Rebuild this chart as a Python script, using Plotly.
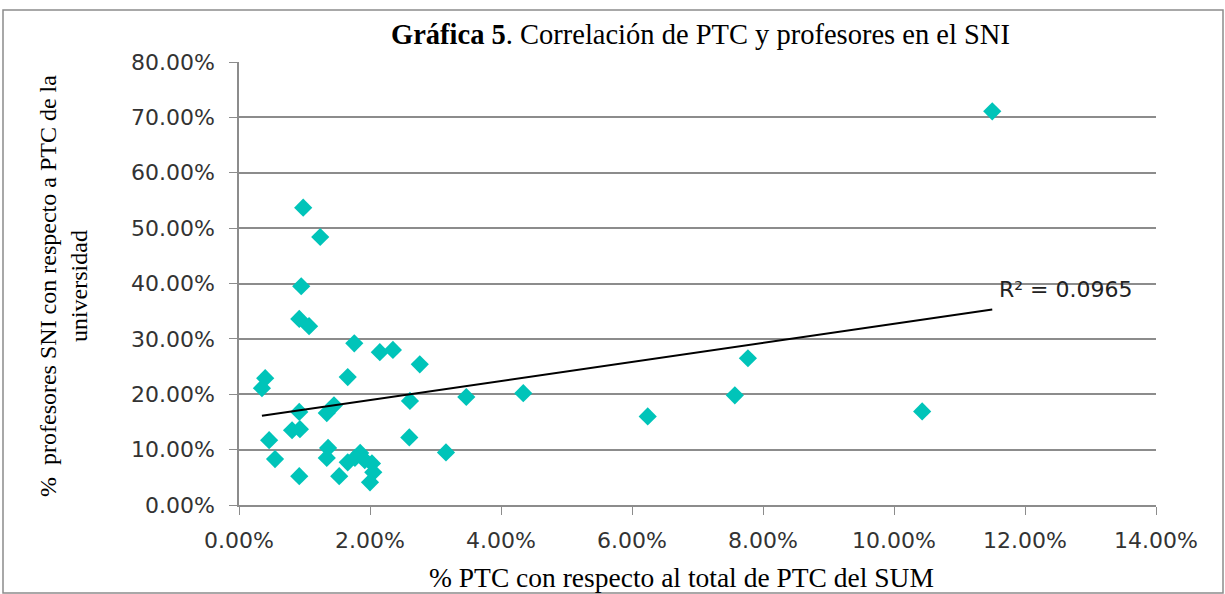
import numpy as np
import plotly.graph_objects as go

# % PTC con respecto al total de PTC del SUM (percent)
ptc_pct = [11.50, 0.98, 1.24, 0.95, 0.92, 1.07, 1.76, 2.15, 2.35, 2.76,
           7.77, 1.66, 0.40, 0.35, 2.61, 3.47, 4.34, 7.57, 6.24, 10.43,
           0.92, 1.45, 1.34, 0.81, 0.93, 0.46, 2.60, 1.36, 1.34, 0.55,
           3.16, 0.92, 1.53, 1.85, 1.66, 2.03, 2.05, 2.00, 1.77, 1.92]
# % profesores SNI con respecto a PTC de la universidad (percent)
sni_pct = [71.1, 53.7, 48.4, 39.5, 33.6, 32.3, 29.2, 27.6, 28.0, 25.4,
           26.5, 23.1, 22.9, 21.1, 18.8, 19.5, 20.2, 19.8, 16.0, 16.9,
           16.8, 18.0, 16.6, 13.5, 13.7, 11.7, 12.2, 10.3, 8.5, 8.3,
           9.5, 5.2, 5.2, 9.4, 7.7, 7.5, 5.9, 4.1, 8.5, 8.1]

r2_label = "R² = 0.0965"
x_ticks = [0, 0.02, 0.04, 0.06, 0.08, 0.10, 0.12, 0.14]
y_ticks = [0, 0.1, 0.2, 0.3, 0.4, 0.5, 0.6, 0.7, 0.8]

x = np.array(ptc_pct) / 100
y = np.array(sni_pct) / 100
slope, intercept = np.polyfit(x, y, 1)
tx = np.array([x.min(), x.max()])
ty = slope * tx + intercept

fig = go.Figure()
fig.add_trace(go.Scatter(x=x, y=y, mode="markers",
                         marker=dict(symbol="diamond", size=14, color="#00C4B9",
                                     line=dict(width=0)),
                         showlegend=False, cliponaxis=False))
fig.add_trace(go.Scatter(x=tx, y=ty, mode="lines",
                         line=dict(color="black", width=2), showlegend=False))

grid = "#8C8C8C"
tickfont = dict(family="DejaVu Sans", size=22, color="#333333")
fig.update_xaxes(range=[0, 0.14], tickvals=x_ticks, tickformat=".2%",
                 showgrid=False, zeroline=False, showline=True, linecolor=grid,
                 linewidth=1.5, ticks="outside", ticklen=8, tickcolor=grid,
                 tickfont=tickfont, ticklabelstandoff=7)
fig.update_yaxes(range=[0, 0.8], tickvals=y_ticks, tickformat=".2%",
                 showgrid=True, gridcolor=grid, gridwidth=1.5, zeroline=False,
                 showline=True, linecolor=grid, linewidth=1.5,
                 ticks="outside", ticklen=8, tickcolor=grid, tickfont=tickfont,
                 ticklabelstandoff=10)

serif = "Liberation Serif"
W, L, R = 917, 239, 1156
H, T, B = 443, 62, 505
fig.update_layout(
    width=1225, height=594,
    margin=dict(l=239, r=69, t=62, b=89),
    paper_bgcolor="white", plot_bgcolor="white",
    annotations=[
        dict(text="<b>Gráfica 5</b>. Correlación de PTC y profesores en el SNI",
             xref="paper", yref="paper", x=(700 - L) / W, y=(B - 34) / H,
             showarrow=False, xanchor="center", yanchor="middle",
             font=dict(family=serif, size=28.5, color="black")),
        dict(text="% PTC con respecto al total de PTC del SUM",
             xref="paper", yref="paper", x=(681 - L) / W, y=(B - 577) / H,
             showarrow=False, xanchor="center", yanchor="middle",
             font=dict(family=serif, size=27.5, color="black")),
        dict(text="%  profesores SNI con respecto a PTC de la<br>universidad",
             xref="paper", yref="paper", x=(63 - L) / W, y=(B - 286) / H,
             showarrow=False, xanchor="center", yanchor="middle", textangle=-90,
             font=dict(family=serif, size=24, color="black")),
        dict(text=r2_label, xref="paper", yref="paper",
             x=(997 - L) / W, y=(B - 289) / H,
             showarrow=False, xanchor="left", yanchor="middle",
             font=dict(family="DejaVu Sans", size=22, color="#222222")),
    ],
    shapes=[dict(type="rect", xref="paper", yref="paper",
                 x0=(3 - L) / W, x1=(1223 - L) / W,
                 y0=(B - 593) / H, y1=(B - 10) / H,
                 line=dict(color="#8C8C8C", width=1.5), fillcolor="rgba(0,0,0,0)",
                 layer="below")],
)

fig.write_html("out.html", config={"displayModeBar": False},
               post_script="document.body.style.margin='0';")
